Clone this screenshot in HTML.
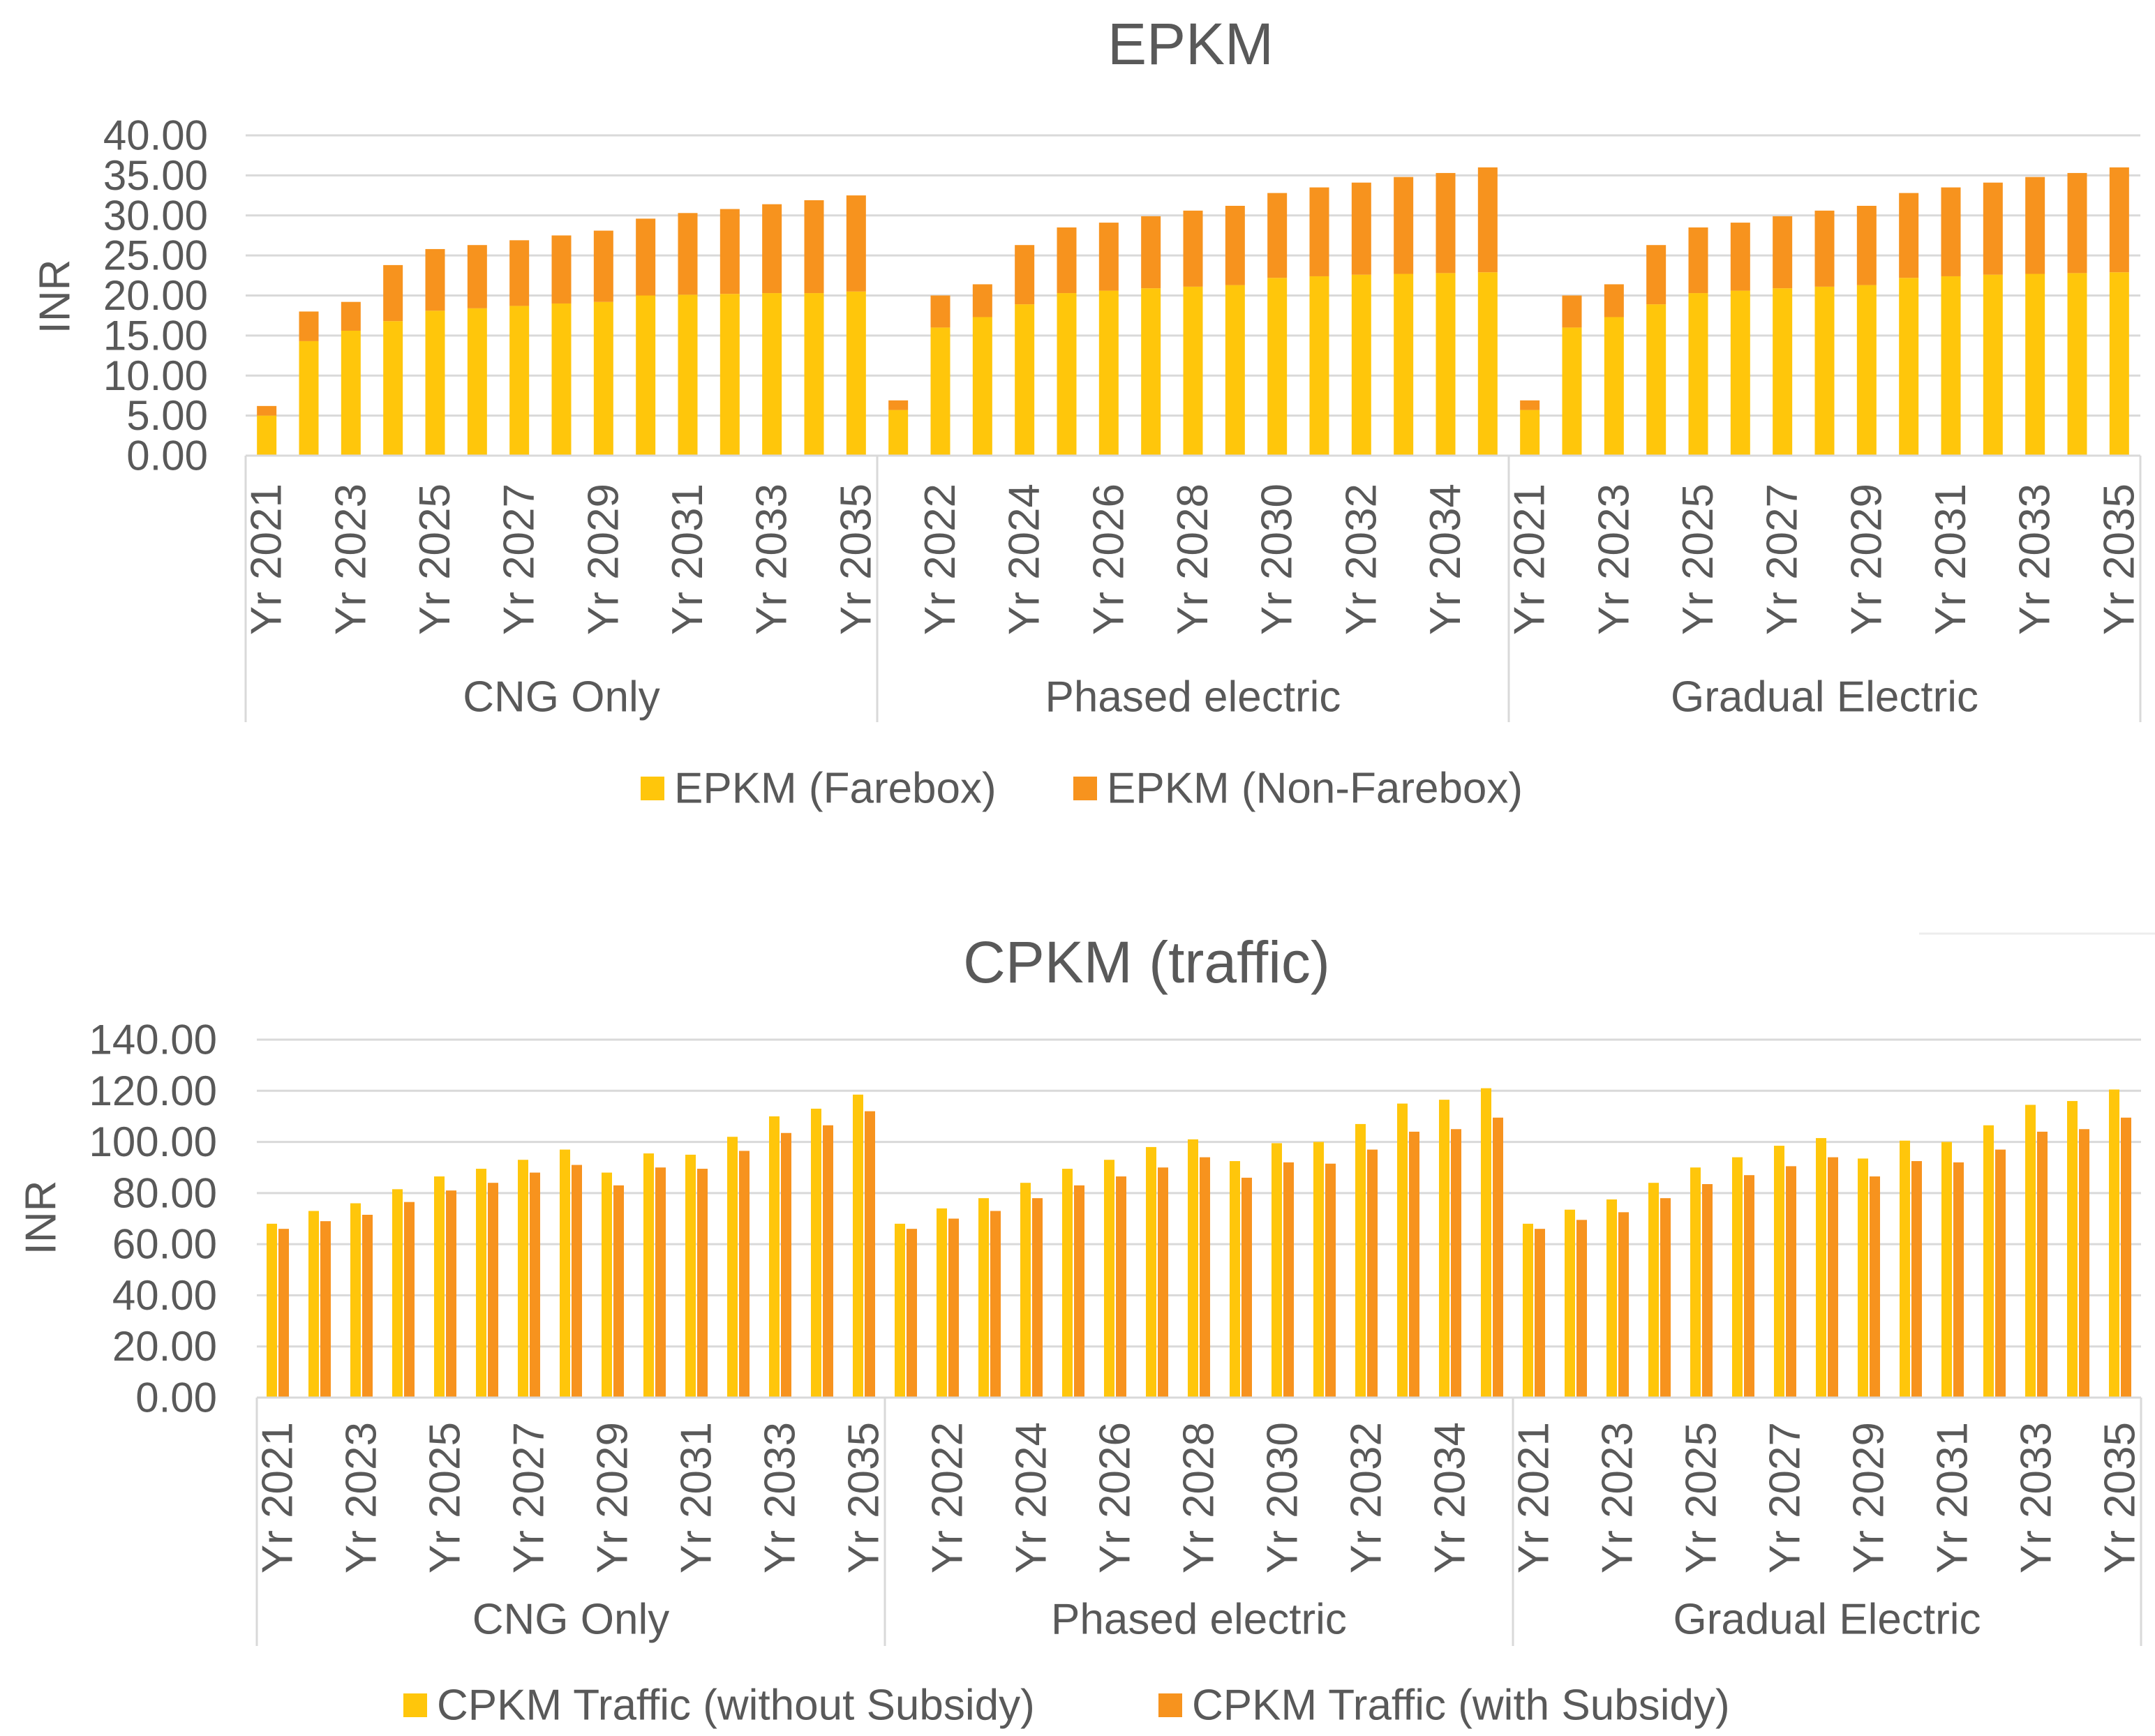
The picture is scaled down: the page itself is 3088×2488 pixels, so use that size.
<!DOCTYPE html>
<html><head><meta charset="utf-8"><style>
html,body{margin:0;padding:0;background:#fff;}
svg{display:block;font-family:"Liberation Sans",sans-serif;}
</style></head><body>
<svg id="svg" width="3088" height="2488" viewBox="0 0 3088 2488"></svg>
<script>
const categoriesYears = ["2021","2022","2023","2024","2025","2026","2027","2028","2029","2030","2031","2032","2033","2034","2035"];
const groups = ["CNG Only","Phased electric","Gradual Electric"];
const epkmTicks = ["0.00","5.00","10.00","15.00","20.00","25.00","30.00","35.00","40.00"];
const cpkmTicks = ["0.00","20.00","40.00","60.00","80.00","100.00","120.00","140.00"];
const epkmFarebox = [
 5.0,14.3,15.6,16.8,18.1,18.4,18.7,19.0,19.2,20.0,20.1,20.2,20.3,20.3,20.5,
 5.7,16.0,17.3,18.9,20.3,20.6,20.9,21.1,21.3,22.2,22.4,22.6,22.7,22.8,22.9,
 5.7,16.0,17.3,18.9,20.3,20.6,20.9,21.1,21.3,22.2,22.4,22.6,22.7,22.8,22.9];
const epkmNonFarebox = [
 1.2,3.7,3.6,7.0,7.7,7.9,8.2,8.5,8.9,9.6,10.2,10.6,11.1,11.6,12.0,
 1.2,4.0,4.1,7.4,8.2,8.5,9.0,9.5,9.9,10.6,11.1,11.5,12.1,12.5,13.1,
 1.2,4.0,4.1,7.4,8.2,8.5,9.0,9.5,9.9,10.6,11.1,11.5,12.1,12.5,13.1];
const cpkmWithout = [
 68,73,76,81.5,86.5,89.5,93,97,88,95.5,95,102,110,113,118.5,
 68,74,78,84,89.5,93,98,101,92.5,99.5,100,107,115,116.5,121,
 68,73.5,77.5,84,90,94,98.5,101.5,93.5,100.5,100,106.5,114.5,116,120.5];
const cpkmWith = [
 66,69,71.5,76.5,81,84,88,91,83,90,89.5,96.5,103.5,106.5,112,
 66,70,73,78,83,86.5,90,94,86,92,91.5,97,104,105,109.5,
 66,69.5,72.5,78,83.5,87,90.5,94,86.5,92.5,92,97,104,105,109.5];

const NS="http://www.w3.org/2000/svg";
const svg=document.getElementById('svg');
const Y="#FFC60B", O="#F7931E", G="#595959", GR="#D9D9D9";
function mk(tag,attrs,parent,text){const e=document.createElementNS(NS,tag);for(const k in attrs)e.setAttribute(k,attrs[k]);if(text!==undefined)e.textContent=text;(parent||svg).appendChild(e);return e;}

function chart(cfg){
  const g=mk('g',{});
  
  
  const n=45, slot=(cfg.right-cfg.left)/n;
  const ys=v=>cfg.y0-(v/cfg.max)*(cfg.y0-cfg.yTop);
  const xs=i=>cfg.left+slot*(i+0.5);
  const t=mk('text',{x:cfg.titleX,y:cfg.titleY,'font-size':84,fill:G,'text-anchor':'middle','dominant-baseline':'central'},g,cfg.title);
  
  
  cfg.ticks.forEach((lab,k)=>{
    const v=parseFloat(lab), y=ys(v);
    if(v>0){const l=mk('line',{x1:cfg.left,x2:cfg.right,y1:y,y2:y,stroke:GR,'stroke-width':3},g);
      
      }
    const tx=mk('text',{x:cfg.tickX,y:y,'font-size':60,fill:G,'text-anchor':'end','dominant-baseline':'central'},g,lab);
    
    
  });
  const at=mk('text',{transform:`translate(${cfg.axisX},${cfg.axisY}) rotate(-90)`,'font-size':62,fill:G,'text-anchor':'middle','dominant-baseline':'central'},g,'INR');
  
  
  cfg.draw(g,xs,ys,slot);
  // axis
  const ax=mk('line',{x1:cfg.left,x2:cfg.right,y1:cfg.y0,y2:cfg.y0,stroke:GR,'stroke-width':3},g);
  
  
  for(let k=0;k<=3;k++){
    const x=cfg.left+slot*15*k;
    const d=mk('line',{x1:x,x2:x,y1:cfg.y0,y2:cfg.divBottom,stroke:GR,'stroke-width':3},g);
    
    
  }
  for(let i=0;i<n;i+=2){
    const tl=mk('text',{transform:`translate(${xs(i)},${cfg.labTop}) rotate(-90)`,'font-size':62,fill:G,'text-anchor':'end','dominant-baseline':'central'},g,'Yr '+categoriesYears[i%15]);
    
    
  }
  groups.forEach((gn,k)=>{
    const x=cfg.left+slot*15*(k+0.5);
    const gt=mk('text',{x:x,y:cfg.groupY,'font-size':62,fill:G,'text-anchor':'middle','dominant-baseline':'central'},g,gn);
    
    
  });
  cfg.legend.forEach(L=>{
    const r=mk('rect',{x:L.sx,y:cfg.legY-17,width:34,height:34,fill:L.c},g);
    
    
    const lt=mk('text',{x:L.tx,y:cfg.legY,'font-size':62,fill:G,'dominant-baseline':'central'},g,L.t);
    
    
  });
}

chart({name:'epkm-chart',title:'EPKM',titleX:1706,titleY:63,left:352,right:3067,yTop:194,y0:653,max:40,
  ticks:epkmTicks,tickX:298,axisX:79,axisY:425,divBottom:1035,labTop:693,groupY:999,legY:1130,
  legend:[{sx:918,tx:966,c:Y,t:'EPKM (Farebox)'},{sx:1538,tx:1586,c:O,t:'EPKM (Non-Farebox)'}],
  draw:(g,xs,ys,slot)=>{
    const w=28;
    epkmFarebox.forEach((v,i)=>{
      const b=mk('rect',{x:xs(i)-w/2,y:ys(v),width:w,height:ys(0)-ys(v),fill:Y},g);
      
      
      const v2=epkmNonFarebox[i];
      const b2=mk('rect',{x:xs(i)-w/2,y:ys(v+v2),width:w,height:ys(v)-ys(v+v2),fill:O},g);
      
      
    });
  }});

chart({name:'cpkm-chart',title:'CPKM (traffic)',titleX:1643,titleY:1379,left:368,right:3068,yTop:1490,y0:2003,max:140,
  ticks:cpkmTicks,tickX:311,axisX:59,axisY:1745,divBottom:2359,labTop:2038,groupY:2321,legY:2444,
  legend:[{sx:578,tx:626,c:Y,t:'CPKM Traffic (without Subsidy)'},{sx:1660,tx:1708,c:O,t:'CPKM Traffic (with Subsidy)'}],
  draw:(g,xs,ys,slot)=>{
    cpkmWithout.forEach((v,i)=>{
      const b=mk('rect',{x:xs(i)-16,y:ys(v),width:15,height:ys(0)-ys(v),fill:Y},g);
      
      
      const v2=cpkmWith[i];
      const b2=mk('rect',{x:xs(i)+1,y:ys(v2),width:15,height:ys(0)-ys(v2),fill:O},g);
      
      
    });
  }});

const fl=mk('line',{x1:2750,x2:3088,y1:1338,y2:1338,stroke:'#EDEDED','stroke-width':3});


</script>
</body></html>
